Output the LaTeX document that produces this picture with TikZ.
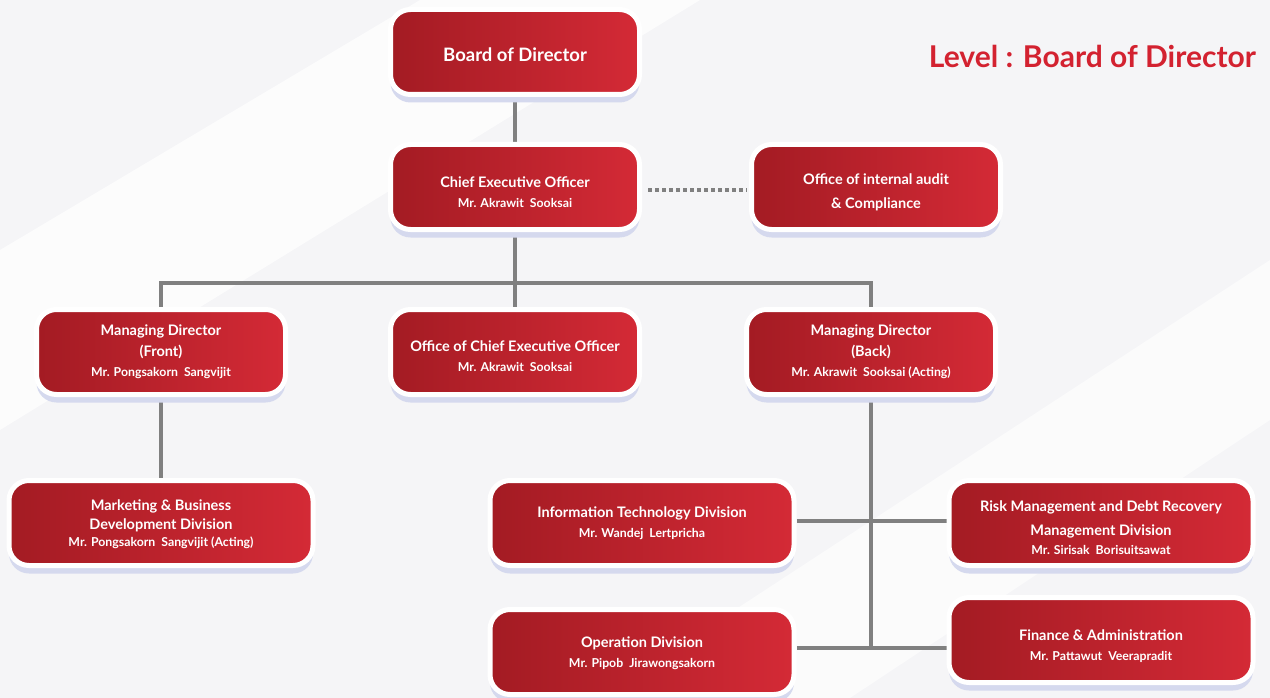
\documentclass[tikz,border=0pt]{standalone}
\usepackage{fontspec}
\setmainfont{Lato}
\usetikzlibrary{shadows,calc}
\definecolor{boxdark}{HTML}{A31B23}
\definecolor{boxlight}{HTML}{D42A36}
\definecolor{shadecol}{HTML}{D5D9EE}
\definecolor{conncol}{HTML}{808080}
\definecolor{titlered}{HTML}{D32230}
\definecolor{bgcol}{HTML}{F5F5F7}
\pgfdeclarelayer{bglayer}
\pgfdeclarelayer{linelayer}
\pgfsetlayers{bglayer,linelayer,main}
\newcommand{\nm}[1]{{\fontsize{12.3}{14}\selectfont #1}}
\newcommand{\dn}[1]{\rule{0pt}{#1}}
\begin{document}
\begin{tikzpicture}[x=1pt,y=-1pt,
  orgbox/.style={rounded corners=20pt, left color=boxdark, right color=boxlight,
    draw=white, line width=5pt, minimum width=249pt, minimum height=85pt,
    text=white, align=center, inner sep=0pt,
    font=\fontsize{14.5}{21}\selectfont\bfseries,
    drop shadow={shadow xshift=0pt, shadow yshift=-8pt, fill=shadecol, opacity=1}},
  widebox/.style={orgbox, minimum width=304pt},
  conn/.style={draw=conncol, line width=4pt},
  dotconn/.style={draw=conncol, line width=4pt, dash pattern=on 4pt off 3pt}]
\useasboundingbox (0,0) rectangle (1270,698);
\begin{pgfonlayer}{bglayer}
  \fill[bgcol] (0,0) rectangle (1270,698);
  \fill[white, opacity=0.7] (0,250) -- (420,0) -- (700,0) -- (0,430) -- cycle;
  \fill[white, opacity=0.6] (600,698) -- (1270,260) -- (1270,420) -- (850,698) -- cycle;
\end{pgfonlayer}

\node[orgbox, font=\fontsize{18.5}{20}\selectfont\bfseries] (board) at (515,52) {\dn{19.5pt}Board of Director};
\node[orgbox] (ceo) at (515,187) {\dn{21pt}Chief Executive Officer\\[-1pt]\nm{Mr. Akrawit\ \ Sooksai}};
\node[orgbox] (audit) at (876,187) {\dn{21pt}Office of internal audit\\[3pt]\& Compliance};
\node[orgbox] (mdf) at (161,352) {Managing Director\\(Front)\\[-1pt]\nm{Mr. Pongsakorn\ \ Sangvijit}};
\node[orgbox] (oceo) at (515,352) {\dn{19pt}Office of Chief Executive Officer\\[-1pt]\nm{Mr. Akrawit\ \ Sooksai}};
\node[orgbox] (mdb) at (871,352) {Managing Director\\(Back)\\[-1pt]\nm{Mr. Akrawit\ \ Sooksai (Acting)}};
\node[widebox] (mkt) at (161,523) {\dn{14pt}Marketing \& Business\\[-2pt]Development Division\\[-4pt]\nm{Mr. Pongsakorn\ \ Sangvijit (Acting)}};
\node[widebox] (it) at (642,523) {Information Technology Division\\[-1pt]\nm{Mr. Wandej\ \ Lertpricha}};
\node[widebox] (risk) at (1101,523) {\dn{21pt}Risk Management and Debt Recovery\\[3pt]Management Division\\[-2pt]\nm{Mr. Sirisak\ \ Borisuitsawat}};
\node[widebox] (ops) at (642,652) {\dn{14pt}Operation Division\\[-1pt]\nm{Mr. Pipob\ \ Jirawongsakorn}};
\node[widebox] (fin) at (1101,640) {\dn{23pt}Finance \& Administration\\[-1pt]\nm{Mr. Pattawut\ \ Veerapradit}};

\node[anchor=east, text=titlered, font=\fontsize{30}{32}\selectfont\bfseries, inner sep=0pt] (title) at (1256,56) {Level : Board of Director};

\coordinate (jn) at (515,283);
\coordinate (b1) at (871,648);
\coordinate (b2) at (871,521);
\begin{pgfonlayer}{linelayer}
  \draw[conn] (board) -- (ceo);
  \draw[conn] (ceo) -- (oceo);
  \draw[conn] (mdf) |- (jn) -| (mdb);
  \draw[conn] (mdf) -- (mkt);
  \draw[conn] (mdb) -- (b1);
  \draw[conn] (it.east |- b2) -- (risk.west |- b2);
  \draw[conn] (ops.east |- b1) -- (fin.west |- b1);
  \draw[dotconn] ($(ceo.east)+(6,3)$) -- ($(audit.west)+(-2,3)$);
\end{pgfonlayer}
\end{tikzpicture}
\end{document}
